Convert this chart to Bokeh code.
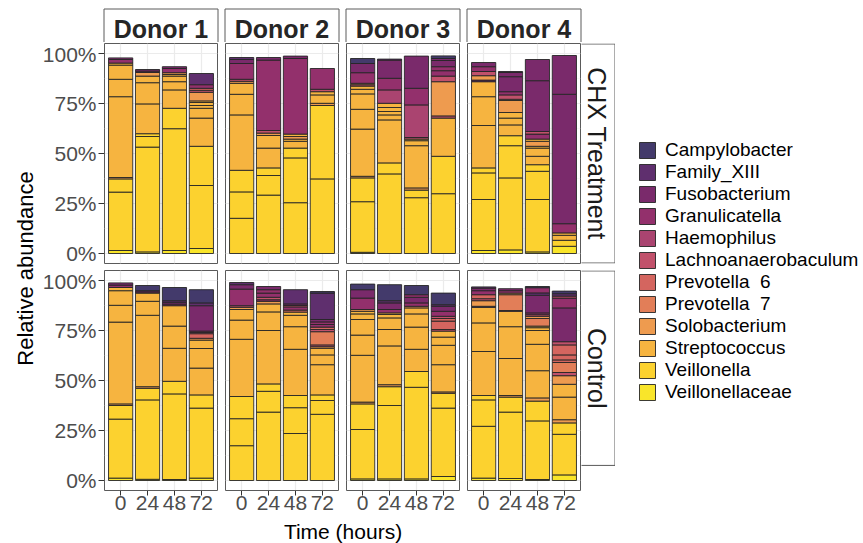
from math import pi
from bokeh.plotting import figure
from bokeh.models import (Range1d, FixedTicker, LinearAxis, Grid, NumeralTickFormatter,
                          ColumnDataSource, Legend, LegendItem, Spacer)
from bokeh.layouts import row, column
from bokeh.core.properties import value
from bokeh.embed import file_html
from bokeh.resources import INLINE

# ---------------- data ----------------
genera = ["Campylobacter", "Family_XIII", "Fusobacterium", "Granulicatella", "Haemophilus",
          "Lachnoanaerobaculum", "Prevotella  6", "Prevotella  7", "Solobacterium",
          "Streptococcus", "Veillonella", "Veillonellaceae"]
genus_codes = ["Ca", "Fa", "Fu", "Gr", "Ha", "La", "P6", "P7", "So", "St", "Ve", "Vc"]
genus_colors = ["#433A6B", "#5F2F6E", "#7A2A6B", "#93306C", "#AA4470", "#C1516B",
                "#D4655F", "#E27E58", "#EE9B4F", "#F6B440", "#FCD22F", "#F9E52A"]
times = [0, 24, 48, 72]
donors = ["Donor 1", "Donor 2", "Donor 3", "Donor 4"]
conditions = ["CHX Treatment", "Control"]
y_ticks = [0, 0.25, 0.5, 0.75, 1.0]
y_minor = [0.125, 0.375, 0.625, 0.875]

# relative abundance (%) of each stacked segment, bottom to top, one list per time point
chx_d1 = [
    [("Vc", 1.5), ("Ve", 29.2), ("Ve", 6.6), ("So", 0.7), ("St", 40.4), ("St", 8.7), ("St", 7.1), ("St", 1.0), ("Gr", 1.8), ("Fu", 0.8)],
    [("Vc", 0.8), ("Ve", 52.4), ("Ve", 5.3), ("Ve", 1.4), ("St", 14.9), ("St", 10.6), ("St", 3.3), ("So", 1.8), ("Gr", 0.7), ("Fu", 0.8)],
    [("Vc", 1.5), ("Ve", 60.9), ("Ve", 10.2), ("St", 9.2), ("St", 4.1), ("St", 2.8), ("St", 0.8), ("So", 0.9), ("Gr", 2.1), ("Fu", 0.9)],
    [("Vc", 2.5), ("Ve", 31.5), ("Ve", 19.6), ("St", 14.1), ("St", 4.9), ("St", 1.4), ("St", 1.5), ("St", 0.8), ("So", 4.3), ("La", 1.0), ("P6", 1.0), ("Gr", 1.8), ("Fa", 5.6)],
]
chx_d2 = [
    [("Ve", 17.6), ("Ve", 13.2), ("Ve", 10.8), ("St", 27.7), ("St", 10.3), ("St", 5.5), ("So", 1.0), ("La", 1.0), ("Gr", 7.9), ("Fu", 2.0), ("Fa", 1.0)],
    [("Ve", 29.2), ("Ve", 9.8), ("Ve", 3.8), ("St", 9.9), ("St", 6.3), ("So", 1.2), ("La", 1.3), ("Gr", 35.2), ("Fu", 1.3)],
    [("Ve", 25.4), ("Ve", 22.4), ("Ve", 4.9), ("St", 3.4), ("St", 1.1), ("So", 1.3), ("St", 1.2), ("Gr", 37.8), ("Fu", 1.2)],
    [("Ve", 37.3), ("Ve", 36.7), ("So", 1.1), ("St", 4.2), ("St", 1.6), ("La", 1.2), ("Gr", 10.4)],
]
chx_d3 = [
    [("Vc", 0.6), ("Ve", 25.3), ("Ve", 11.9), ("So", 0.8), ("St", 23.6), ("St", 9.9), ("St", 7.7), ("St", 2.3), ("St", 1.6), ("La", 0.7), ("So", 0.7), ("Gr", 5.3), ("Fu", 4.6), ("Ca", 2.5)],
    [("Ve", 39.8), ("Ve", 5.5), ("St", 21.5), ("St", 2.5), ("St", 1.7), ("St", 2.0), ("St", 2.1), ("Ha", 6.7), ("Gr", 5.8), ("Fu", 9.1), ("Fa", 0.5)],
    [("Ve", 27.9), ("Ve", 3.8), ("So", 1.1), ("St", 21.1), ("St", 2.5), ("St", 0.8), ("La", 0.8), ("Ha", 16.3), ("Gr", 8.3), ("Fu", 16.1)],
    [("Ve", 29.9), ("Ve", 18.7), ("St", 19.1), ("La", 1.1), ("So", 17.1), ("La", 2.8), ("Gr", 2.7), ("Gr", 2.0), ("Fu", 3.1), ("Fu", 1.0), ("Ca", 1.3)],
]
chx_d4 = [
    [("Vc", 1.5), ("Ve", 25.5), ("Ve", 13.3), ("Ve", 2.5), ("St", 21.2), ("St", 14.4), ("St", 7.5), ("Fu", 0.8), ("So", 2.2), ("La", 2.1), ("Gr", 2.4), ("Fu", 2.1)],
    [("Vc", 1.8), ("Ve", 36.0), ("Ve", 16.1), ("Ve", 5.0), ("St", 5.4), ("St", 3.4), ("St", 2.8), ("So", 6.0), ("So", 0.6), ("La", 2.2), ("Gr", 1.6), ("Fu", 7.5), ("Fu", 2.1), ("Fa", 0.5)],
    [("Vc", 0.8), ("Ve", 26.2), ("Ve", 14.1), ("Ve", 3.3), ("St", 4.2), ("St", 4.1), ("St", 0.9), ("So", 2.5), ("St", 1.1), ("Gr", 2.5), ("La", 1.3), ("Fu", 25.4), ("Fu", 10.6)],
    [("Vc", 3.6), ("Ve", 3.0), ("St", 2.5), ("St", 1.2), ("Gr", 4.6), ("Fu", 64.7), ("Fu", 19.4)],
]
ctl_d1 = [
    [("Vc", 1.2), ("Ve", 29.5), ("Ve", 6.8), ("So", 0.8), ("St", 40.9), ("St", 8.4), ("St", 7.3), ("St", 1.6), ("Gr", 1.2), ("Fu", 1.1)],
    [("Vc", 0.6), ("Ve", 39.7), ("Ve", 5.8), ("So", 0.8), ("St", 35.7), ("St", 7.0), ("St", 4.1), ("Gr", 0.6), ("Fu", 0.6), ("Ca", 2.6)],
    [("Vc", 0.5), ("Ve", 42.8), ("Ve", 6.3), ("St", 16.5), ("St", 11.1), ("St", 10.2), ("Gr", 0.8), ("Fu", 0.9), ("Fa", 0.8), ("Ca", 6.6)],
    [("Vc", 1.2), ("Ve", 35.0), ("Ve", 6.6), ("St", 13.4), ("St", 9.8), ("St", 4.2), ("So", 0.9), ("P6", 2.3), ("La", 0.6), ("Gr", 0.7), ("Fu", 12.7), ("Fa", 1.4), ("Ca", 6.6)],
]
ctl_d2 = [
    [("Ve", 17.4), ("Ve", 13.5), ("Ve", 11.1), ("St", 28.6), ("St", 9.6), ("St", 5.3), ("So", 1.1), ("La", 0.8), ("Gr", 8.3), ("Fu", 2.2), ("Fa", 1.1)],
    [("Ve", 34.2), ("Ve", 10.4), ("Ve", 3.7), ("St", 26.7), ("St", 9.3), ("St", 4.0), ("So", 1.3), ("Gr", 0.8), ("La", 1.2), ("Gr", 2.1), ("Gr", 1.7), ("Fu", 1.6)],
    [("Ve", 23.5), ("Ve", 12.9), ("Ve", 6.1), ("St", 23.1), ("St", 11.3), ("St", 5.7), ("St", 1.6), ("P6", 1.0), ("Gr", 1.6), ("La", 0.7), ("Fu", 0.8), ("Fa", 7.1)],
    [("Ve", 33.1), ("Ve", 6.9), ("Ve", 2.8), ("St", 15.1), ("St", 4.9), ("St", 3.3), ("So", 0.8), ("La", 0.9), ("P7", 6.6), ("La", 1.1), ("P6", 1.2), ("Gr", 1.3), ("Gr", 1.3), ("Fu", 1.2), ("Fa", 13.2), ("Ca", 0.8)],
]
ctl_d3 = [
    [("Vc", 0.8), ("Ve", 24.7), ("Ve", 12.8), ("So", 0.9), ("St", 23.4), ("St", 10.1), ("St", 7.8), ("St", 2.8), ("St", 1.3), ("So", 0.9), ("Gr", 5.7), ("Fu", 4.2), ("Ca", 2.8)],
    [("Vc", 0.8), ("Ve", 36.7), ("Ve", 9.4), ("So", 1.0), ("St", 19.4), ("St", 8.2), ("St", 5.8), ("St", 1.7), ("St", 0.8), ("Gr", 1.7), ("Fu", 3.3), ("Fa", 1.1), ("Ca", 8.0)],
    [("Vc", 0.8), ("Ve", 45.8), ("Ve", 7.9), ("St", 11.1), ("St", 11.1), ("St", 6.6), ("St", 3.0), ("So", 0.8), ("Gr", 1.7), ("Fu", 2.8), ("Gr", 1.3), ("Ca", 4.6)],
    [("Vc", 2.0), ("Ve", 34.2), ("Ve", 7.4), ("So", 0.7), ("St", 13.6), ("St", 9.7), ("St", 4.1), ("St", 3.0), ("La", 0.8), ("P6", 4.2), ("P6", 1.3), ("La", 1.1), ("Gr", 2.5), ("Fu", 2.5), ("Fa", 0.8), ("Ca", 5.8)],
]
ctl_d4 = [
    [("Vc", 1.2), ("Ve", 25.9), ("Ve", 13.2), ("Ve", 2.2), ("St", 22.0), ("St", 14.3), ("St", 7.8), ("Fu", 0.5), ("So", 2.8), ("La", 1.0), ("P6", 2.0), ("Gr", 2.0), ("Fu", 1.3), ("Fa", 0.6)],
    [("Vc", 1.0), ("Ve", 33.2), ("Ve", 7.5), ("So", 0.8), ("St", 18.5), ("St", 15.9), ("St", 7.7), ("La", 0.4), ("P7", 7.9), ("So", 0.8), ("Gr", 1.2), ("Fu", 1.0)],
    [("Vc", 0.5), ("Ve", 29.3), ("Ve", 9.9), ("So", 1.6), ("St", 13.6), ("St", 13.2), ("St", 6.9), ("St", 1.4), ("St", 0.8), ("P7", 3.8), ("So", 1.1), ("La", 0.8), ("Gr", 0.9), ("Fu", 8.8), ("Fa", 1.2), ("Gr", 2.6), ("Ca", 0.6)],
    [("Vc", 2.8), ("Ve", 20.3), ("Ve", 5.7), ("So", 1.6), ("St", 11.3), ("St", 6.4), ("So", 4.3), ("La", 1.6), ("P7", 5.0), ("P6", 1.3), ("P6", 2.5), ("P6", 5.0), ("La", 1.6), ("Fu", 16.9), ("Gr", 4.9), ("La", 1.0), ("Fa", 1.2), ("Ca", 1.3)],
]

panel_rows = [[chx_d1, chx_d2, chx_d3, chx_d4],
              [ctl_d1, ctl_d2, ctl_d3, ctl_d4]]

# ---------------- style / layout constants ----------------
FONT = "Liberation Sans"
color_of = dict(zip(genus_codes, genus_colors))
xpos = [i + 1 for i in range(len(times))]
FRAME_W, FRAME_H = 113, 220
GAP = 6
YAX_W = 66
XAX_H = 29
YT_W = 38
STRIP_H = 42
RSTRIP_W = 34
TOTAL_H = 543
LEG_W = 248
ROW_GAP = 5
BORDER = "#5a5a5a"
SEG_LINE = "#262626"


def base_fig(w, h, xr, yr, **kw):
    p = figure(width=w, height=h, x_range=xr, y_range=yr, x_axis_type=None, y_axis_type=None,
               toolbar_location=None, output_backend="svg", background_fill_color="white",
               border_fill_color="white", **kw)
    return p


def make_panel(bars, first_col, bottom_axis):
    mb_left = YAX_W if first_col else 1
    mb_bottom = XAX_H if bottom_axis else 1
    p = base_fig(mb_left + FRAME_W + 1, 1 + FRAME_H + mb_bottom,
                 Range1d(0.4, len(times) + 0.6), Range1d(-0.05, 1.05),
                 min_border_left=mb_left, min_border_right=1, min_border_top=1,
                 min_border_bottom=mb_bottom)
    p.outline_line_color = BORDER
    p.outline_line_width = 1
    p.add_layout(Grid(dimension=0, ticker=FixedTicker(ticks=xpos),
                      grid_line_color="#EBEBEB", grid_line_width=1.2))
    p.add_layout(Grid(dimension=1, ticker=FixedTicker(ticks=y_ticks, minor_ticks=y_minor),
                      grid_line_color="#EBEBEB", grid_line_width=1.2,
                      minor_grid_line_color="#F4F4F4", minor_grid_line_width=0.7))
    axis_style = dict(axis_line_color=None, major_tick_line_color="#333333",
                      major_tick_in=0, minor_tick_line_color=None, major_label_text_font=FONT,
                      major_label_text_font_size="21px", major_label_text_color="#4D4D4D")
    if first_col:
        ax = LinearAxis(ticker=FixedTicker(ticks=y_ticks),
                        formatter=NumeralTickFormatter(format="0%"), major_tick_out=6,
                        major_label_standoff=2, **axis_style)
        p.add_layout(ax, "left")
    if bottom_axis:
        bx = LinearAxis(ticker=FixedTicker(ticks=xpos),
                        major_label_overrides={x: str(t) for x, t in zip(xpos, times)},
                        major_tick_out=5, major_label_standoff=0, **axis_style)
        p.add_layout(bx, "below")

    xs, bottoms, tops, fills, genus = [], [], [], [], []
    for i, segs in enumerate(bars):
        cum = 0.0
        for code, pct in segs:
            xs.append(xpos[i])
            bottoms.append(cum / 100.0)
            cum += pct
            tops.append(cum / 100.0)
            fills.append(color_of[code])
            genus.append(genera[genus_codes.index(code)])
    src = ColumnDataSource(dict(x=xs, bottom=bottoms, top=tops, fill=fills, genus=genus))
    p.vbar(x="x", bottom="bottom", top="top", width=0.9, fill_color="fill",
           line_color=SEG_LINE, line_width=0.9, source=src)
    return p


# top strip with donor labels
panels_w = len(donors) * (FRAME_W + 2) + (len(donors) - 1) * GAP + (YAX_W - 1)
center_w = panels_w + RSTRIP_W
strip = base_fig(center_w, STRIP_H, Range1d(0, center_w), Range1d(0, STRIP_H), min_border=0)
strip.outline_line_color = None
lefts = [YAX_W + j * (FRAME_W + 2 + GAP) for j in range(len(donors))]
strip.quad(left=[l - 0.5 for l in lefts], right=[l + FRAME_W + 0.5 for l in lefts],
           bottom=-2, top=STRIP_H - 8.5, fill_color="white", line_color=BORDER, line_width=1)
strip.text(x=[l + FRAME_W / 2 for l in lefts], y=13.5, text=donors, text_align="center",
           text_baseline="middle", text_font=value(FONT), text_font_style="bold",
           text_font_size="25px", text_color="#262626")


def make_rstrip(label, h, bottom_pad):
    s = base_fig(RSTRIP_W, h, Range1d(0, RSTRIP_W), Range1d(0, h), min_border=0)
    s.outline_line_color = None
    s.quad(left=-2, right=RSTRIP_W - 0.5, bottom=bottom_pad - 0.5, top=bottom_pad + FRAME_H + 0.5,
           fill_color="white", line_color=BORDER, line_width=1)
    s.text(x=[RSTRIP_W / 2 - 2], y=[bottom_pad + FRAME_H / 2], text=[label], angle=-pi / 2,
           text_align="center", text_baseline="middle", text_font=value(FONT),
           text_font_size="25px", text_color="#1a1a1a")
    return s


rows = []
for r, cond in enumerate(conditions):
    bottom_axis = (r == len(conditions) - 1)
    children = []
    for j, bars in enumerate(panel_rows[r]):
        if j > 0:
            children.append(Spacer(width=GAP, height=10))
        children.append(make_panel(bars, j == 0, bottom_axis))
    h = 1 + FRAME_H + (XAX_H if bottom_axis else 1)
    children.append(make_rstrip(cond, h, XAX_H if bottom_axis else 1))
    rows.append(row(*children))

xtitle_h = TOTAL_H - STRIP_H - (FRAME_H + 2) - ROW_GAP - (FRAME_H + 1 + XAX_H)
xtitle = base_fig(center_w, xtitle_h, Range1d(0, center_w), Range1d(0, xtitle_h), min_border=0)
xtitle.outline_line_color = None
xtitle.text(x=[YAX_W + (panels_w - YAX_W) / 2], y=[xtitle_h / 2], text=["Time (hours)"],
            text_align="center", text_baseline="middle", text_font=value(FONT),
            text_font_size="21px", text_color="black")

center = column(strip, rows[0], Spacer(width=center_w, height=ROW_GAP), rows[1], xtitle)

ytitle = base_fig(YT_W, TOTAL_H, Range1d(0, YT_W), Range1d(0, TOTAL_H), min_border=0)
ytitle.outline_line_color = None
ytitle.text(x=[25], y=[TOTAL_H - 268], text=["Relative abundance"], angle=pi / 2,
            text_align="center", text_baseline="middle", text_font=value(FONT),
            text_font_size="22px", text_color="black")

leg = base_fig(LEG_W, TOTAL_H, Range1d(0, 1), Range1d(0, 1), min_border=0)
leg.outline_line_color = None
items = []
for name, col in zip(genera, genus_colors):
    # keys only: the marks lie outside the visible range of this legend panel
    rr = leg.vbar(x=[5], bottom=[5], top=[6], width=0.5, fill_color=col,
                  line_color=SEG_LINE, line_width=0.9)
    items.append(LegendItem(label=name, renderers=[rr]))
legend = Legend(items=items, location=(22, 140), glyph_width=20, glyph_height=20,
                label_height=20, spacing=0, padding=0, margin=0, label_standoff=8,
                label_text_font=FONT, label_text_font_size="19px", label_text_color="black",
                border_line_color=None, background_fill_alpha=0)
leg.add_layout(legend)

root = row(ytitle, center, leg)

open("out.html", "w").write(file_html(root, INLINE))
